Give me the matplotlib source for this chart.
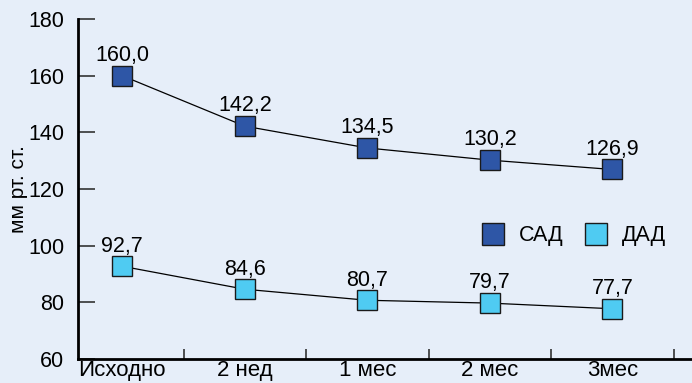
import matplotlib.pyplot as plt

plt.rcParams['font.family'] = ['Liberation Sans', 'DejaVu Sans']

periods = ['Исходно', '2 нед', '1 мес', '2 мес', '3мес']
sad = [160.0, 142.2, 134.5, 130.2, 126.9]
dad = [92.7, 84.6, 80.7, 79.7, 77.7]
yticks = [60, 80, 100, 120, 140, 160, 180]

bg = '#e6eef9'
c_sad = '#2e56a6'
c_dad = '#4fcbf2'
fs = 15.5

fig = plt.figure(figsize=(6.92, 3.83), dpi=100, facecolor=bg)
ax = fig.add_axes([0.113, 0.063, 0.887, 0.887], facecolor=bg)

x = list(range(len(periods)))
for vals, col, name in [(sad, c_sad, 'САД'), (dad, c_dad, 'ДАД')]:
    ax.plot(x, vals, '-', color='black', lw=0.9, zorder=2)
    ax.plot(x, vals, 's', ms=14, mfc=col, mec='#1a1a1a', mew=1.0, zorder=3,
            linestyle='none', label=name)
    for xi, v in zip(x, vals):
        ax.annotate(('%.1f' % v).replace('.', ','), (xi, v), xytext=(0, 7),
                    textcoords='offset points', ha='center', va='bottom',
                    fontsize=fs)

ax.set_xlim(-0.36, 4.65)
ax.set_ylim(60, 180)
ax.set_yticks(yticks)
ax.set_yticklabels([str(t) for t in yticks], fontsize=fs)
ax.set_xticks([i + 0.5 for i in range(len(periods))])
ax.set_xticklabels([])
ax.set_xticks(x, minor=True)
ax.set_xticklabels(periods, minor=True, fontsize=16)
ax.tick_params(axis='x', which='minor', length=0, pad=1)
ax.tick_params(axis='x', which='major', direction='in', length=7, width=1.2, color='#333333')
ax.tick_params(axis='y', direction='in', length=12, width=1.2, color='#333333', pad=10)
ax.set_ylabel('мм рт. ст.', fontsize=15, labelpad=0)

for s in ['top', 'right']:
    ax.spines[s].set_visible(False)
ax.spines['left'].set_linewidth(2)
ax.spines['bottom'].set_linewidth(2)

leg = ax.legend(loc='center', bbox_to_anchor=(0.806, 0.362), ncol=2, frameon=False,
                fontsize=fs, handletextpad=0.6, columnspacing=0.9, markerscale=1.1,
                handlelength=1.2)

fig.savefig('out.png', dpi=100, facecolor=bg)
